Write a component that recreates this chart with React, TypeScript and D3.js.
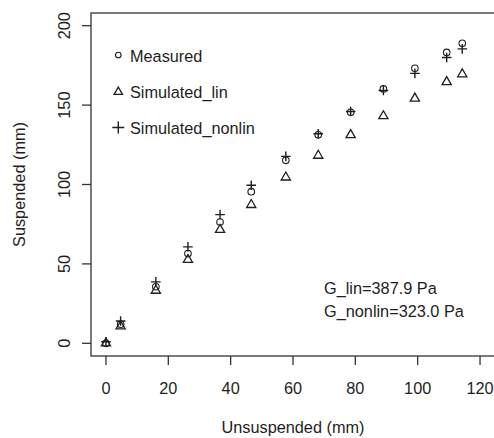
import { useEffect, useRef } from 'react';
import * as d3 from 'd3';

const unsuspended = [0, 4.7, 16, 26.3, 36.6, 46.6, 57.7, 68.1, 78.5, 89, 99.1, 109.3, 114.3];
const measured = [0, 12, 35.6, 56.5, 76.4, 95.5, 115.2, 131.3, 145.5, 160.2, 173.2, 183.2, 188.9];
const simulatedLin = [0, 10.7, 33.2, 52.6, 71.5, 87.2, 104.5, 118.2, 131.2, 143.1, 154.2, 164.6, 169.5];
const simulatedNonlin = [1, 14, 38.7, 60.7, 81, 99.5, 117.7, 132, 146, 159.2, 170, 180, 185.4];

const xTicks = [0, 20, 40, 60, 80, 100, 120];
const yTicks = [0, 50, 100, 150, 200];
const legendLabels = ['Measured', 'Simulated_lin', 'Simulated_nonlin'];
const notes = ['G_lin=387.9 Pa', 'G_nonlin=323.0 Pa'];

const WIDTH = 494;
const HEIGHT = 438;
const FONT = '"Liberation Sans", Arial, sans-serif';
const INK = '#1e1e1e';

type Sel = d3.Selection<SVGGElement, unknown, null, undefined>;

const drawCircle = (g: Sel, cx: number, cy: number, r: number) => {
  g.append('circle')
    .attr('cx', cx)
    .attr('cy', cy)
    .attr('r', r)
    .attr('fill', 'none')
    .attr('stroke', INK)
    .attr('stroke-width', 1.1);
};

const drawTriangle = (g: Sel, cx: number, cy: number, half: number) => {
  // centroid-centred like R's pch 2
  const r = half / 0.866;
  const pts: [number, number][] = [
    [cx, cy - r],
    [cx + half, cy + r / 2],
    [cx - half, cy + r / 2]
  ];
  g.append('path')
    .attr('d', d3.line()(pts) + 'Z')
    .attr('fill', 'none')
    .attr('stroke', INK)
    .attr('stroke-width', 1.3);
};

const drawPlus = (g: Sel, cx: number, cy: number, half: number) => {
  g.append('path')
    .attr('d', `M${cx - half},${cy}H${cx + half}M${cx},${cy - half}V${cy + half}`)
    .attr('fill', 'none')
    .attr('stroke', INK)
    .attr('stroke-width', 1.4);
};

export default function App() {
  const svgRef = useRef<SVGSVGElement>(null);

  useEffect(() => {
    if (!svgRef.current) return;
    const svg = d3.select(svgRef.current);
    svg.selectAll('*').remove();

    const x = d3.scaleLinear().domain([-4.8, 124.8]).range([91, 495]);
    const y = d3.scaleLinear().domain([-8, 208]).range([356, 13]);

    const root = svg.append('g') as Sel;

    // plot frame
    root
      .append('rect')
      .attr('x', 91)
      .attr('y', 13)
      .attr('width', 404)
      .attr('height', 343)
      .attr('fill', 'none')
      .attr('stroke', '#333')
      .attr('stroke-width', 1.3);

    // x axis
    const xAxis = root.append('g');
    xAxis
      .selectAll('line')
      .data(xTicks)
      .enter()
      .append('line')
      .attr('x1', (d) => x(d))
      .attr('x2', (d) => x(d))
      .attr('y1', 356)
      .attr('y2', 365)
      .attr('stroke', '#333')
      .attr('stroke-width', 1.3);
    xAxis
      .selectAll('text')
      .data(xTicks)
      .enter()
      .append('text')
      .text((d) => d)
      .attr('x', (d) => x(d))
      .attr('y', 394)
      .attr('text-anchor', 'middle');

    // y axis
    const yAxis = root.append('g');
    yAxis
      .selectAll('line')
      .data(yTicks)
      .enter()
      .append('line')
      .attr('x1', 82)
      .attr('x2', 91)
      .attr('y1', (d) => y(d))
      .attr('y2', (d) => y(d))
      .attr('stroke', '#333')
      .attr('stroke-width', 1.3);
    yAxis
      .selectAll('text')
      .data(yTicks)
      .enter()
      .append('text')
      .text((d) => d)
      .attr('transform', (d) => `translate(70,${y(d)}) rotate(-90)`)
      .attr('text-anchor', 'middle');

    // axis titles
    root
      .append('text')
      .text('Unsuspended (mm)')
      .attr('x', 293)
      .attr('y', 433)
      .attr('text-anchor', 'middle');
    root
      .append('text')
      .text('Suspended (mm)')
      .attr('transform', 'translate(25,184.5) rotate(-90)')
      .attr('text-anchor', 'middle');

    // series
    const pts = root.append('g') as Sel;
    unsuspended.forEach((u, i) => {
      drawCircle(pts, x(u), y(measured[i]), 3.3);
      drawTriangle(pts, x(u), y(simulatedLin[i]), 4.6);
      drawPlus(pts, x(u), y(simulatedNonlin[i]), 4.8);
    });

    // legend
    const legend = root.append('g') as Sel;
    const rowY = [55, 91, 127.5];
    drawCircle(legend, 118.3, rowY[0], 2.8);
    drawTriangle(legend, 118.3, rowY[1] + 1, 4.2);
    drawPlus(legend, 118.3, rowY[2], 6);
    legend
      .selectAll('text')
      .data(legendLabels)
      .enter()
      .append('text')
      .text((d) => d)
      .attr('x', 130)
      .attr('y', (_, i) => rowY[i] + 6.5);

    // annotation
    root
      .append('g')
      .selectAll('text')
      .data(notes)
      .enter()
      .append('text')
      .text((d) => d)
      .attr('x', 324)
      .attr('y', (_, i) => 294 + i * 22.7);

    root.selectAll('text').attr('font-family', FONT).attr('font-size', 16.3).attr('fill', INK);
  }, []);

  return (
    <svg
      ref={svgRef}
      width={WIDTH}
      height={HEIGHT}
      style={{ position: 'absolute', left: 0, top: 0, background: '#fff' }}
    />
  );
}
